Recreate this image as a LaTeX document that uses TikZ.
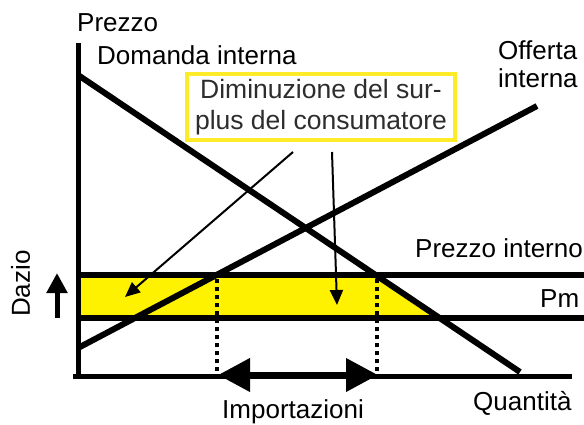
\documentclass[tikz,border=0pt]{standalone}
\usepackage{fontspec}
\setmainfont{Liberation Sans}
\usetikzlibrary{arrows.meta}
\definecolor{boxyellow}{RGB}{255,236,40}
\definecolor{boxtext}{RGB}{45,45,45}

\begin{document}
\begin{tikzpicture}[x=1pt, y=-1pt,
  lbl/.style={anchor=base west, inner sep=0pt, font=\fontsize{26}{31}\selectfont},
  curve/.style={black, line width=6pt},
  axis/.style={black, line width=5pt},
  guide/.style={black, line width=3.5pt, dash pattern=on 4pt off 4pt},
  pointer/.style={black, line width=2pt, -{Triangle[length=15pt, width=13pt]}}]
\useasboundingbox (0,0) rectangle (584,425);

\coordinate (D1) at (78,75);
\coordinate (D2) at (520,372);
\coordinate (S1) at (78,348);
\coordinate (S2) at (537,106);

\fill[yellow] (78,275) -- (376,275) -- (440,318) -- (78,318) -- cycle;
\foreach \p in {275, 318} \draw[curve] (78,\p) -- (584,\p);
\foreach \q in {217, 377} \draw[guide] (\q,279) -- (\q,374);
\draw[curve] (S1) -- (S2);
\draw[curve] (D1) -- (D2);
\draw[axis] (78,43) -- (78,378);
\draw[axis] (73,376) -- (572,376);

\coordinate (imp1) at (218,375);
\coordinate (imp2) at (378,375);
\draw[line width=7pt, {Triangle[length=32pt, width=32pt]}-{Triangle[length=32pt, width=32pt]}] (imp1) -- (imp2);

\coordinate (daz1) at (57,318);
\coordinate (daz2) at (57,273);
\draw[line width=5pt, -{Triangle[length=20pt, width=20pt]}] (daz1) -- (daz2);

\node[draw=boxyellow, line width=4pt, fill=white, text=boxtext, inner sep=0pt,
  minimum width=268pt, minimum height=66pt, align=center,
  font=\fontsize{26.5}{31}\selectfont] (box) at (321,107) {Diminuzione del sur-\\plus del consumatore};
\coordinate (e1) at (125,297);
\coordinate (e2) at (337,305);
\draw[pointer] (box.south) ++(-28,10) -- (e1);
\draw[pointer] (box.south) ++(11,10) -- (e2);

\node[lbl] (prezzo) at (77,32) {Prezzo};
\node[lbl] (domanda) at (97,65) {Domanda interna};
\node[lbl] (offerta) at (498,60) {Offerta};
\node[lbl] (offerta2) at (498,88) {interna};
\node[lbl] (interno) at (415,257) {Prezzo interno};
\node[lbl] (pm) at (540,307) {Pm};
\node[lbl] (quant) at (473,410) {Quantità};
\node[lbl] (import) at (222,418) {Importazioni};
\node[lbl, rotate=90] (dazio) at (30,317) {Dazio};
\end{tikzpicture}
\end{document}
